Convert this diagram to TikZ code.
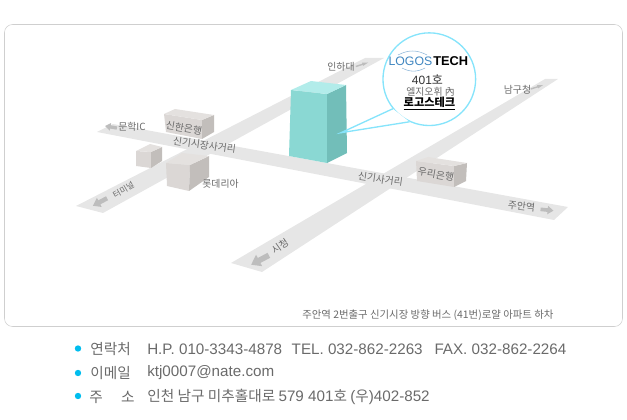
\documentclass[tikz,border=0pt]{standalone}
\usepackage{fontspec}
\setmainfont{Noto Sans CJK KR}
\newfontfamily\latinfont{Liberation Sans}
\usepackage{tikz}
\definecolor{roadgray}{HTML}{E6E6E6}
\definecolor{framegray}{HTML}{CFCFCF}
\definecolor{textgray}{HTML}{6A6A6A}
\definecolor{arrowgray}{HTML}{BDBDBD}
\definecolor{blockfront}{HTML}{DBD7D5}
\definecolor{blockside}{HTML}{C2BEBB}
\definecolor{blocktop}{HTML}{E4E1DF}
\definecolor{towerfront}{HTML}{8AD8D3}
\definecolor{towerside}{HTML}{72BEB9}
\definecolor{towertop}{HTML}{B2ECEA}
\definecolor{bubbleline}{HTML}{86E4FB}
\definecolor{logoblue}{HTML}{3F86C0}
\definecolor{dotcyan}{HTML}{00BDEE}
\tikzset{
  place/.style={font=\fontsize{7.4}{8}\selectfont, text=textgray, inner sep=0pt},
  infotext/.style={font=\fontsize{11}{12}\selectfont, text=textgray, inner sep=0pt, anchor=west},
  latintext/.style={font=\fontsize{11.4}{12}\latinfont, text=textgray, inner sep=0pt, anchor=west},
  bullet/.style={circle, fill=dotcyan, minimum size=4.8pt, inner sep=0pt},
  road/.style={fill=roadgray, draw=none},
  pics/roadarrow/.style={code={
    \fill[arrowgray] (-1,-.28) -- (.1,-.28) -- (.1,-.65) -- (1,0) -- (.1,.65) -- (.1,.28) -- (-1,.28) -- cycle;
  }}
}
\begin{document}
\begin{tikzpicture}[x=0.75pt, y=-0.75pt]
\useasboundingbox (0,0) rectangle (627,420);
\draw[framegray, rounded corners=6] (4.5,24.5) rectangle (622.5,326.5);
% roads
\fill[road] (97,132) -- (113,124) -- (568,207) -- (554,220) -- cycle;
\fill[road] (76,206) -- (365,58) -- (384,58) -- (103,213) -- cycle;
\fill[road] (231,263) -- (545,79) -- (558,79) -- (262,272) -- cycle;
% road arrows
\pic[rotate=170, scale=6] at (111,127) {roadarrow};
\pic[rotate=18, xscale=6.5, yscale=2.5] at (362,64.5) {roadarrow};
\pic[rotate=18, xscale=6.5, yscale=2.5] at (537,87) {roadarrow};
\pic[rotate=-6, scale=6.5] at (547,210) {roadarrow};
\pic[rotate=208, scale=8] at (100,202) {roadarrow};
\pic[rotate=208, scale=10] at (260,260) {roadarrow};
% blocks
\fill[blockfront] (164,114) -- (202,120) -- (202,139) -- (166,132) -- cycle;
\fill[blockside] (202,120) -- (214,115) -- (214,132) -- (202,139) -- cycle;
\fill[blocktop] (164,114) -- (175,109) -- (214,115) -- (202,120) -- cycle;
\fill[blockfront] (136,151) -- (151,152) -- (151,168) -- (136,166) -- cycle;
\fill[blockside] (151,152) -- (162,147) -- (162,161) -- (151,168) -- cycle;
\fill[blocktop] (136,151) -- (150,144) -- (162,147) -- (151,152) -- cycle;
\fill[blockfront] (166,163) -- (190,165) -- (189,191) -- (167,186) -- cycle;
\fill[blockside] (190,165) -- (209,156) -- (209,177) -- (189,191) -- cycle;
\fill[blocktop] (166,163) -- (182,153) -- (209,156) -- (190,165) -- cycle;
\fill[blockfront] (416,161) -- (454,166) -- (454,187) -- (417,181) -- cycle;
\fill[blockside] (454,166) -- (467,163) -- (466,181) -- (454,187) -- cycle;
\fill[blocktop] (416,161) -- (428,157) -- (467,163) -- (454,166) -- cycle;
% tower
\fill[towerfront] (291,90) -- (327,94) -- (327,163) -- (289,156) -- cycle;
\fill[towerside] (327,94) -- (346,85) -- (347,153) -- (327,163) -- cycle;
\fill[towertop] (291,90) -- (311,81) -- (346,85) -- (327,94) -- cycle;
% callout
\node[circle, draw=bubbleline, fill=white, line width=1pt, minimum size=69.5pt, inner sep=0pt] (bubble) at (429.3,79.2) {};
\coordinate (tip) at (341,132.7);
\draw[bubbleline, line width=1pt, fill=white] (bubble.219) -- (tip) -- (bubble.245);
\node[inner sep=0pt, anchor=east, text=logoblue, font=\fontsize{9.2}{10}\latinfont] (logoa) at (432.5,61) {LOGOS};
\node[inner sep=0pt, anchor=west, text=black, font=\fontsize{9.6}{10}\latinfont\bfseries] (logob) at (433,61) {TECH};
\coordinate (logotl) at (398,55);
\coordinate (logotr) at (427,55);
\coordinate (logobl) at (402,68);
\coordinate (logobr) at (425,68);
\draw[logoblue!60, line width=.4pt] (logotl) to[bend left=28] (logotr);
\draw[logoblue!60, line width=.4pt] (logobl) to[bend right=28] (logobr);
\node[inner sep=0pt, text=black!80, font=\fontsize{9}{10}\latinfont] (room) at (427.5,79.5) {401{\rmfamily 호}};
\node[place] (bldg) at (430.5,92) {엘지오휘 內};
\node[inner sep=0pt, text=black, font=\fontsize{8.4}{10}\selectfont\bfseries] (company) at (429.5,103.5) {\underline{로고스테크}};
% labels
\node[place] (inha) at (341,67) {인하대};
\node[place] (namgu) at (517.5,89.5) {남구청};
\node[place] (munhak) at (132,127) {문학IC};
\node[place, rotate=-10] (shinhan) at (184,128) {신한은행};
\node[place, rotate=-8] (market) at (204.5,145) {신기시장사거리};
\node[place] (lotte) at (220.5,184) {롯데리아};
\node[place, rotate=30, font=\fontsize{6.2}{8}\selectfont] (terminal) at (123.5,190) {터미널};
\node[place, rotate=-8] (cross) at (380.5,179) {신기사거리};
\node[place, rotate=-10] (woori) at (436,174.5) {우리은행};
\node[place, rotate=-6] (juan) at (521.5,206.5) {주안역};
\node[place, rotate=35] (city) at (280,246.5) {시청};
\node[place, anchor=west, font=\fontsize{7.8}{8}\selectfont] (note) at (302,315) {주안역 2번출구 신기시장 방향 버스 (41번)로얄 아파트 하차};
% contact lines
\node[bullet] (dot1) at (78,348.5) {};
\node[bullet] (dot2) at (78,373) {};
\node[bullet] (dot3) at (78,396) {};
\node[infotext] (contact) at (90,349) {연락처};
\node[latintext] (phones) at (147,349) {H.P. 010-3343-4878\hspace{0.35em} TEL. 032-862-2263\hspace{0.5em} FAX. 032-862-2264};
\node[infotext] (mail) at (90,373) {이메일};
\node[latintext] (mailaddr) at (147,373) {ktj0007@nate.com};
\node[infotext] (addr) at (89,397) {주\hspace{1.25em}소};
\node[infotext] (addrtext) at (147,397) {인천 남구 미추홀대로 {\latinfont\fontsize{11.4}{12}\selectfont 579 401}호 {\latinfont\fontsize{11.4}{12}\selectfont (}우{\latinfont\fontsize{11.4}{12}\selectfont )402-852}};
\end{tikzpicture}
\end{document}
